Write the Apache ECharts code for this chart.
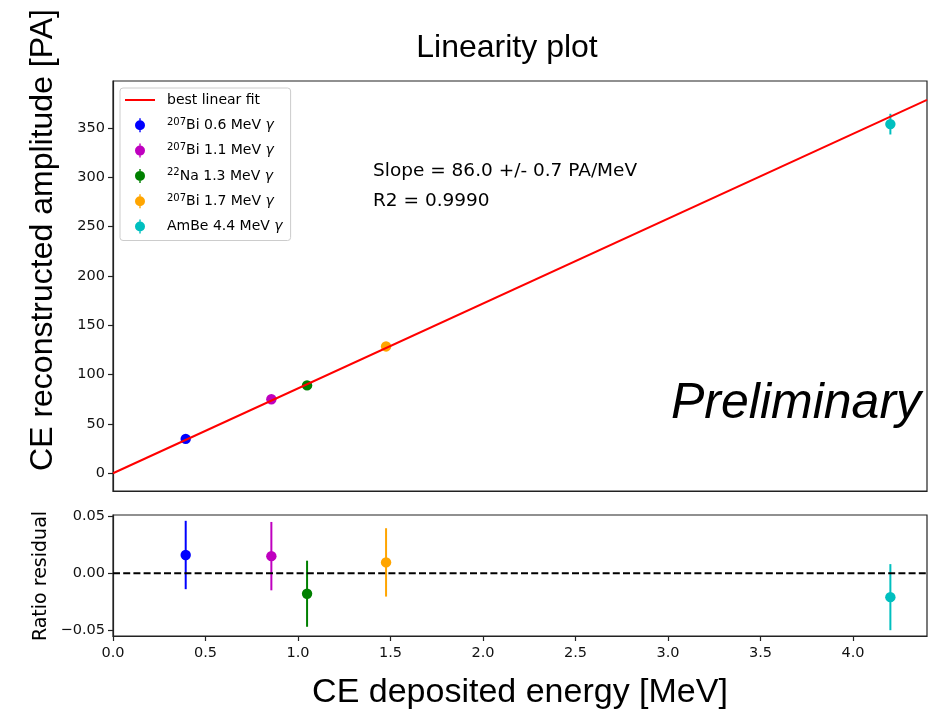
<!DOCTYPE html>
<html><head><meta charset="utf-8">
<script src="https://cdn.jsdelivr.net/npm/echarts@6/dist/echarts.min.js"></script>
<style>html,body{margin:0;padding:0;background:#fff}#c{width:952px;height:711px}</style>
</head><body><div id="c"></div>
<script>
// ---- data ----
const energies     = [0.393, 0.856, 1.049, 1.476, 4.202];      // MeV (x)
const amplitudes   = [34.8, 75.0, 89.0, 128.5, 353.8];          // PA
const amplitudeErr = [1.0, 2.3, 2.6, 3.9, 10.5];
const residuals    = [0.016, 0.015, -0.018, 0.0095, -0.021];
const residualErr  = [0.030, 0.030, 0.029, 0.030, 0.029];
const isotopes     = ['207', '207', '22', '207', ''];
const elements     = ['Bi', 'Bi', 'Na', 'Bi', 'AmBe'];
const lineLabels   = ['0.6 MeV', '1.1 MeV', '1.3 MeV', '1.7 MeV', '4.4 MeV'];
const fitName      = 'best linear fit';
const fitX         = [0, 4.4];
const fitY         = [0, 378.4];
const zeroX        = [0, 4.4];
const zeroY        = [0, 0];
const xTicks       = [0, 0.5, 1.0, 1.5, 2.0, 2.5, 3.0, 3.5, 4.0];
const yTicks       = [0, 50, 100, 150, 200, 250, 300, 350];
const resTicks     = [-0.05, 0, 0.05];
const titleText    = 'Linearity plot';
const yTopLabel    = 'CE reconstructed amplitude [PA]';
const yBotLabel    = 'Ratio residual';
const xLabel       = 'CE deposited energy [MeV]';
const fitText1     = 'Slope = 86.0 +/- 0.7 PA/MeV';
const fitText2     = 'R2 = 0.9990';
const prelimText   = 'Preliminary';

// ---- styles ----
const colors = ['#0000ff', '#bf00bf', '#008000', '#ffa500', '#00bfbf'];
const tickFont = 'DejaVu Sans';
const names = energies.map((_, i) => isotopes[i] + elements[i] + ' ' + lineLabels[i] + ' γ');
const nameIdx = {};
names.forEach((n, i) => nameIdx[n] = i);
const errIcon = 'path://M5,2 A5,5 0 1,1 4.99,2 Z M4.3,0 H5.7 V14 H4.3 Z';
const lineIcon = 'path://M0,0 H30 V2 H0 Z';

function errRender(params, api) {
  const x = api.value(0), y = api.value(1), e = api.value(2);
  const p = api.coord([x, y]);
  const lo = api.coord([x, y - e]);
  const hi = api.coord([x, y + e]);
  const c = api.visual('color');
  return {
    type: 'group',
    children: [
      { type: 'line', shape: { x1: p[0], y1: lo[1], x2: p[0], y2: hi[1] }, style: { stroke: c, lineWidth: 2 } },
      { type: 'circle', shape: { cx: p[0], cy: p[1], r: 5.2 }, style: { fill: c } }
    ]
  };
}

const series = [
  {
    name: fitName, type: 'line', xAxisIndex: 0, yAxisIndex: 0,
    data: fitX.map((x, i) => [x, fitY[i]]),
    symbol: 'none', lineStyle: { color: '#ff0000', width: 2 }, itemStyle: { color: '#ff0000' },
    silent: true, animation: false
  },
  {
    name: 'zero', type: 'line', xAxisIndex: 1, yAxisIndex: 1,
    data: zeroX.map((x, i) => [x, zeroY[i]]),
    symbol: 'none', lineStyle: { color: '#000', width: 2, type: [7, 3.2] },
    silent: true, animation: false
  }
];
names.forEach((n, i) => {
  series.push({
    name: n, type: 'custom', xAxisIndex: 0, yAxisIndex: 0,
    itemStyle: { color: colors[i] }, renderItem: errRender, animation: false,
    encode: { x: 0, y: 1 },
    data: [[energies[i], amplitudes[i], amplitudeErr[i]]]
  });
  series.push({
    name: n, type: 'custom', xAxisIndex: 1, yAxisIndex: 1,
    itemStyle: { color: colors[i] }, renderItem: errRender, animation: false,
    encode: { x: 0, y: 1 },
    data: [[energies[i], residuals[i], residualErr[i]]]
  });
});

const axisCommon = {
  axisLine: { show: true, onZero: false, lineStyle: { color: '#222', width: 1.2 } },
  splitLine: { show: false }
};

const option = {
  backgroundColor: '#fff',
  animation: false,
  grid: [
    { left: 113, top: 81, width: 814, height: 410, show: true, borderColor: '#222', borderWidth: 1.2, backgroundColor: 'transparent' },
    { left: 113, top: 515, width: 814, height: 121, show: true, borderColor: '#222', borderWidth: 1.2, backgroundColor: 'transparent' }
  ],
  xAxis: [
    Object.assign({}, axisCommon, {
      type: 'value', gridIndex: 0, min: 0, max: 4.4,
      axisTick: { show: false }, axisLabel: { show: false }
    }),
    Object.assign({}, axisCommon, {
      type: 'value', gridIndex: 1, min: 0, max: 4.4,
      axisTick: { show: true, length: 5, customValues: xTicks, lineStyle: { color: '#222', width: 1.2 } },
      axisLabel: { show: true, customValues: xTicks, margin: 10, fontFamily: tickFont, fontSize: 14.5, color: '#111',
        formatter: v => v.toFixed(1) }
    })
  ],
  yAxis: [
    Object.assign({}, axisCommon, {
      type: 'value', gridIndex: 0, min: -18, max: 397.5,
      axisTick: { show: true, length: 5, customValues: yTicks, lineStyle: { color: '#222', width: 1.2 } },
      axisLabel: { show: true, customValues: yTicks, margin: 8, fontFamily: tickFont, fontSize: 14.5, color: '#111',
        formatter: v => String(Math.round(v)) }
    }),
    Object.assign({}, axisCommon, {
      type: 'value', gridIndex: 1, min: -0.0551, max: 0.0511,
      axisTick: { show: true, length: 5, customValues: resTicks, lineStyle: { color: '#222', width: 1.2 } },
      axisLabel: { show: true, customValues: resTicks, margin: 8, fontFamily: tickFont, fontSize: 14.5, color: '#111',
        formatter: v => (Math.abs(v) < 1e-9 ? '0.00' : v.toFixed(2).replace('-', '\u2212')) }
    })
  ],
  legend: {
    orient: 'vertical', left: 120, top: 88,
    padding: [4, 8, 6, 5], itemGap: 9.3, itemWidth: 30, itemHeight: 14,
    backgroundColor: '#fff', borderColor: '#cccccc', borderWidth: 1, borderRadius: 3,
    selectedMode: false,
    data: [{ name: fitName, icon: lineIcon, itemStyle: { color: '#ff0000' } }].concat(names.map(n => ({ name: n, icon: errIcon }))),
    formatter: function (name) {
      if (name === fitName) return name;
      const i = nameIdx[name];
      const sup = isotopes[i] ? '{sup|' + isotopes[i] + '}' : '';
      return sup + '{t|' + elements[i] + ' ' + lineLabels[i] + ' }{g|γ}';
    },
    textStyle: {
      fontFamily: 'DejaVu Sans', fontSize: 14, color: '#000', lineHeight: 16, padding: [0, 0, 0, 7],
      rich: {
        sup: { fontFamily: 'DejaVu Sans', fontSize: 10, color: '#000', lineHeight: 10, verticalAlign: 'top' },
        t: { fontFamily: 'DejaVu Sans', fontSize: 14, color: '#000', lineHeight: 16 },
        g: { fontFamily: 'DejaVu Sans', fontSize: 14, color: '#000', lineHeight: 16, fontStyle: 'italic' }
      }
    }
  },
  graphic: [
    { type: 'text', x: 507, y: 48, style: { text: titleText, x: 0, y: 0, align: 'center', verticalAlign: 'middle',
      font: '32px "Liberation Sans", Arial, sans-serif', fill: '#000' }, silent: true },
    { type: 'text', x: 43, y: 240, rotation: Math.PI / 2, style: { text: yTopLabel, x: 0, y: 0, align: 'center', verticalAlign: 'middle',
      font: '32px "Liberation Sans", Arial, sans-serif', fill: '#000' }, silent: true },
    { type: 'text', x: 41, y: 576, rotation: Math.PI / 2, style: { text: yBotLabel, x: 0, y: 0, align: 'center', verticalAlign: 'middle',
      font: '19px "DejaVu Sans", sans-serif', fill: '#000' }, silent: true },
    { type: 'text', x: 520, y: 693, style: { text: xLabel, x: 0, y: 0, align: 'center', verticalAlign: 'middle',
      font: '34px "Liberation Sans", Arial, sans-serif', fill: '#000' }, silent: true },
    { type: 'text', x: 373, y: 171.5, style: { text: fitText1, x: 0, y: 0, align: 'left', verticalAlign: 'middle',
      font: '18.5px "DejaVu Sans", sans-serif', fill: '#000' }, silent: true },
    { type: 'text', x: 373, y: 201, style: { text: fitText2, x: 0, y: 0, align: 'left', verticalAlign: 'middle',
      font: '18.5px "DejaVu Sans", sans-serif', fill: '#000' }, silent: true },
    { type: 'text', x: 671, y: 404, style: { text: prelimText, x: 0, y: 0, align: 'left', verticalAlign: 'middle',
      font: 'italic 50px "Liberation Sans", Arial, sans-serif', fill: '#000' }, silent: true }
  ],
  series: series
};

const chart = echarts.init(document.getElementById('c'), null, { renderer: 'canvas' });
chart.setOption(option);
</script>
</body></html>
